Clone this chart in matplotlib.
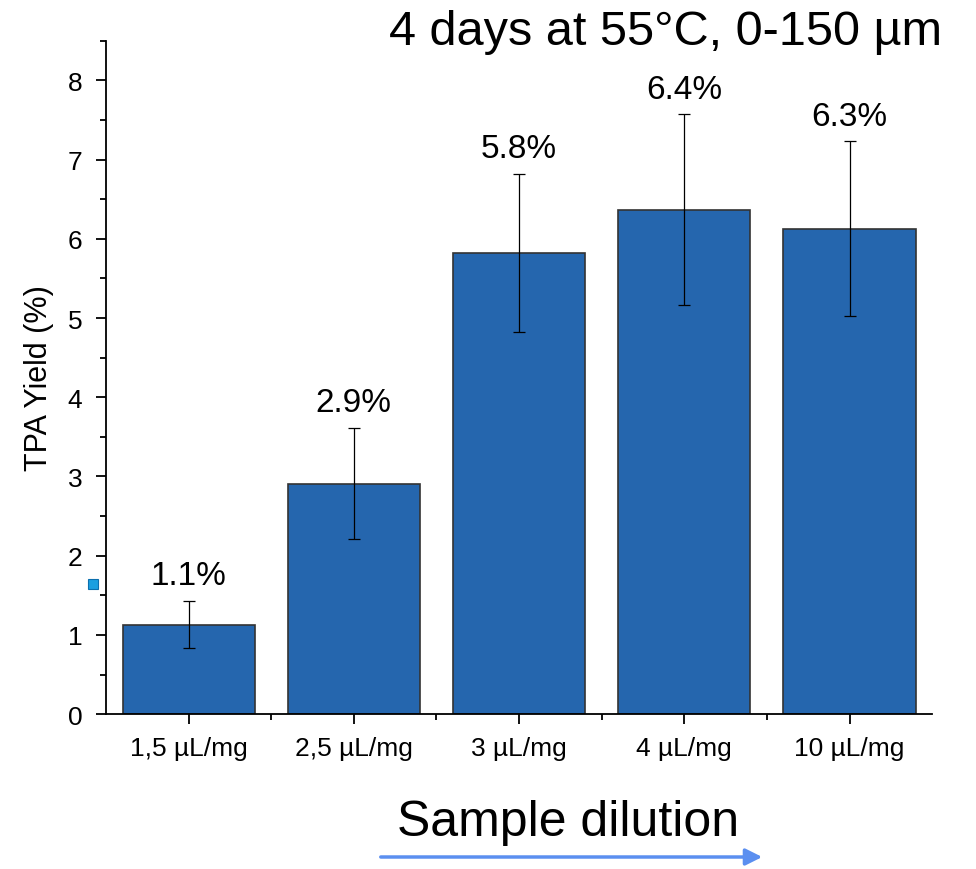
import numpy as np
import matplotlib.pyplot as plt
from matplotlib.ticker import MultipleLocator, FixedLocator

# data
categories = ["1,5 µL/mg", "2,5 µL/mg", "3 µL/mg", "4 µL/mg", "10 µL/mg"]
yields = [1.13, 2.91, 5.82, 6.37, 6.13]
errors = [0.30, 0.70, 1.00, 1.20, 1.10]
labels = ["1.1%", "2.9%", "5.8%", "6.4%", "6.3%"]

plt.rcParams["font.family"] = ["Liberation Sans", "DejaVu Sans"]

fig = plt.figure(figsize=(9.76, 8.7), dpi=100)
ax = fig.add_axes([0.1086, 0.178, 0.8465, 0.774])

x = np.arange(len(categories))
ax.bar(x, yields, width=0.8, color="#2566ae", edgecolor="#333333", linewidth=1.2,
       yerr=errors, capsize=4.5, error_kw=dict(elinewidth=0.9, capthick=0.9, ecolor="black"))

for xi, y, e, lab in zip(x, yields, errors, labels):
    ax.annotate(lab, (xi, y + e), xytext=(0, 7), textcoords="offset points",
                ha="center", va="bottom", fontsize=24)

ax.set_xlim(-0.5, len(categories) - 0.5)
ax.set_ylim(0, 8.5)
ax.set_xticks(x)
ax.set_xticklabels(categories, fontsize=19)
ax.xaxis.set_minor_locator(FixedLocator(x[:-1] + 0.5))
ax.yaxis.set_major_locator(MultipleLocator(1))
ax.yaxis.set_minor_locator(MultipleLocator(0.5))
ax.tick_params(axis="y", labelsize=19, pad=10)
ax.tick_params(which="major", direction="out", length=7, width=1.3)
ax.tick_params(which="minor", direction="out", length=4, width=1.3)
ax.tick_params(axis="x", pad=9)
ax.set_ylabel("TPA Yield (%)", fontsize=22, labelpad=10)

for side in ["top", "right"]:
    ax.spines[side].set_visible(False)
for side in ["left", "bottom"]:
    ax.spines[side].set_linewidth(1.3)

# stray marker next to the y axis
fig.patches.append(plt.Rectangle((88 / 976, 1 - 590 / 870), 10 / 976, 10 / 870,
                                 transform=fig.transFigure, facecolor="#1a9fe0",
                                 edgecolor="#0b6fae", linewidth=0.8))

fig.text(942 / 976, 1 - 10 / 870, "4 days at 55°C, 0-150 µm", ha="right", va="top", fontsize=35)
fig.text(568 / 976, 1 - 823 / 870, "Sample dilution", ha="center", va="center", fontsize=36)
fig.add_artist(plt.matplotlib.patches.FancyArrowPatch(
    (378 / 976, 1 - 858 / 870), (765 / 976, 1 - 858 / 870), transform=fig.transFigure,
    arrowstyle="-|>,head_length=10,head_width=5", color="#5b8ff0", linewidth=2.5,
    mutation_scale=1))

fig.savefig("out.png", dpi=100)
